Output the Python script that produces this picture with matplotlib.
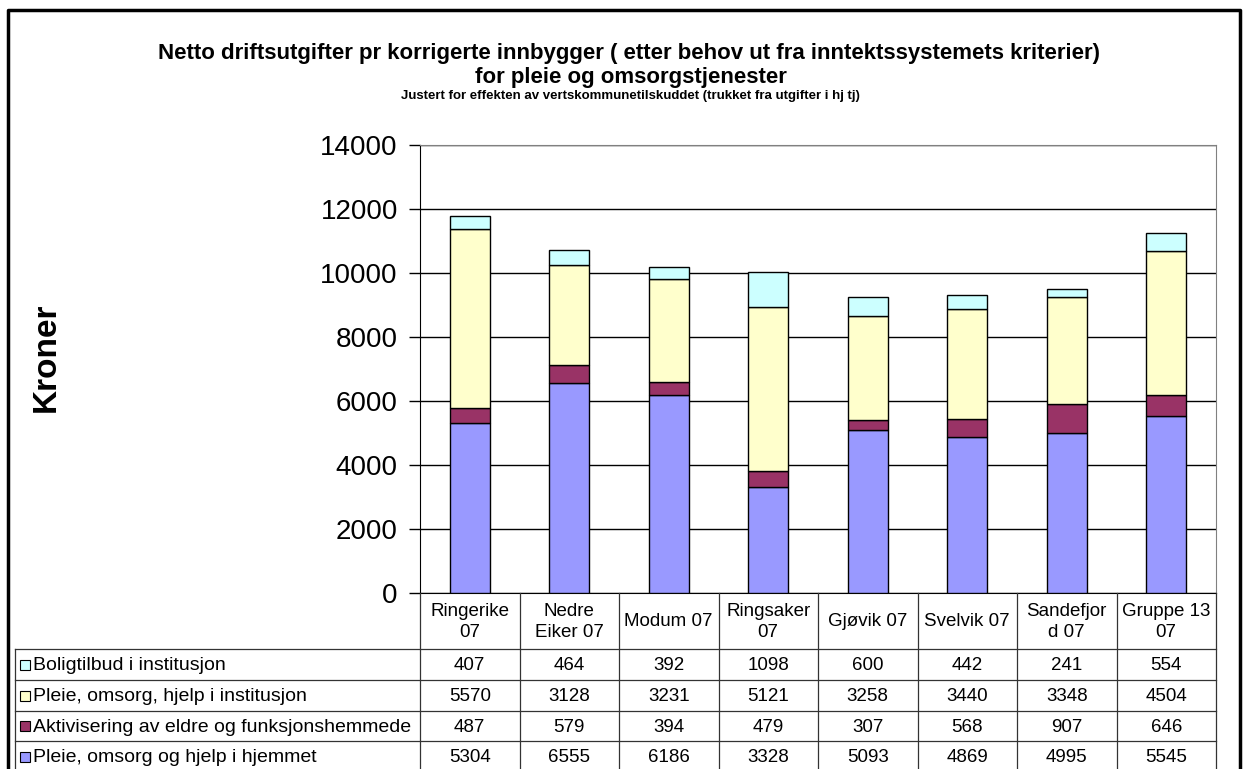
import matplotlib.pyplot as plt
from matplotlib.patches import Rectangle
from matplotlib.transforms import blended_transform_factory

plt.rcParams['font.family'] = ['Liberation Sans', 'DejaVu Sans']

kommuner = ["Ringerike\n07", "Nedre\nEiker 07", "Modum 07", "Ringsaker\n07",
            "Gjøvik 07", "Svelvik 07", "Sandefjor\nd 07", "Gruppe 13\n07"]
hjemmet = [5304, 6555, 6186, 3328, 5093, 4869, 4995, 5545]
aktivisering = [487, 579, 394, 479, 307, 568, 907, 646]
institusjon = [5570, 3128, 3231, 5121, 3258, 3440, 3348, 4504]
boligtilbud = [407, 464, 392, 1098, 600, 442, 241, 554]

# stacked bottom -> top
serier = [
    ("Pleie, omsorg og hjelp i hjemmet", hjemmet, "#9999FF"),
    ("Aktivisering av eldre og funksjonshemmede", aktivisering, "#993366"),
    ("Pleie, omsorg, hjelp i institusjon", institusjon, "#FFFFCC"),
    ("Boligtilbud i institusjon", boligtilbud, "#CCFFFF"),
]

W, H = 1243, 769
fig = plt.figure(figsize=(W / 100, H / 100), dpi=100)
ax = fig.add_axes([420 / W, 1 - 593 / H, (1216 - 420) / W, (593 - 145) / H])

n = len(kommuner)
x = list(range(n))
bunn = [0] * n
for navn, verdier, farge in serier:
    ax.bar(x, verdier, 0.4, bottom=bunn, color=farge, edgecolor='black',
           linewidth=1, zorder=3)
    bunn = [b + v for b, v in zip(bunn, verdier)]

ax.set_xlim(-0.5, n - 0.5)
ax.set_ylim(0, 14000)
ax.set_yticks(range(0, 14001, 2000))
ax.tick_params(axis='y', labelsize=20, length=8, width=1, pad=8)
ax.set_xticks([])
ax.yaxis.grid(True, color='black', linewidth=1, zorder=0)
ax.spines['top'].set_color('#808080')
ax.spines['right'].set_color('#808080')

# overlay in figure pixels for title, table and frame
ov = fig.add_axes([0, 0, 1, 1], zorder=5)
ov.set_xlim(0, W)
ov.set_ylim(H, 0)
ov.axis('off')

ov.text(629, 53, "Netto driftsutgifter pr korrigerte innbygger ( etter behov ut fra inntektssystemets kriterier)",
        ha='center', va='center', fontsize=16, fontweight='bold')
ov.text(631, 77, "for pleie og omsorgstjenester",
        ha='center', va='center', fontsize=16, fontweight='bold')
ov.text(630, 96, "Justert for effekten av vertskommunetilskuddet (trukket fra utgifter i hj tj)",
        ha='center', va='center', fontsize=9.5, fontweight='bold')
ov.text(46, 357, "Kroner", rotation=90, ha='center', va='center',
        fontsize=24, fontweight='bold')

# data table
bt = blended_transform_factory(ax.transData, ov.transData)
hoyre = ax.transData.transform((n - 0.5, 0))[0]
linje = dict(color='#333333', lw=0.9, clip_on=False)
rader = [649, 680, 711, 741, 772]
for k in range(n + 1):
    ov.plot([k - 0.5, k - 0.5], [593, 775], transform=bt, **linje)
for y in rader[:-1]:
    ov.plot([15, hoyre], [y, y], **linje)
ov.plot([15, 15], [649, 775], **linje)

for i, lab in enumerate(kommuner):
    ov.text(i, 622, lab, transform=bt, ha='center', va='center',
            fontsize=13.5, linespacing=1.35)

for r, (navn, verdier, farge) in enumerate(serier[::-1]):
    yc = (rader[r] + rader[r + 1]) / 2
    ov.add_patch(Rectangle((20, yc - 5), 10, 10, facecolor=farge,
                           edgecolor='black', lw=0.8))
    ov.text(33, yc + 1, navn, ha='left', va='center', fontsize=14)
    for i, v in enumerate(verdier):
        ov.text(i, yc + 1, str(v), transform=bt, ha='center', va='center',
                fontsize=13.5)

# outer frame
ov.plot([8, 8, 1240, 1240], [775, 10, 10, 775], color='black', lw=2.5,
        clip_on=False)

fig.savefig("out.png", dpi=100)
